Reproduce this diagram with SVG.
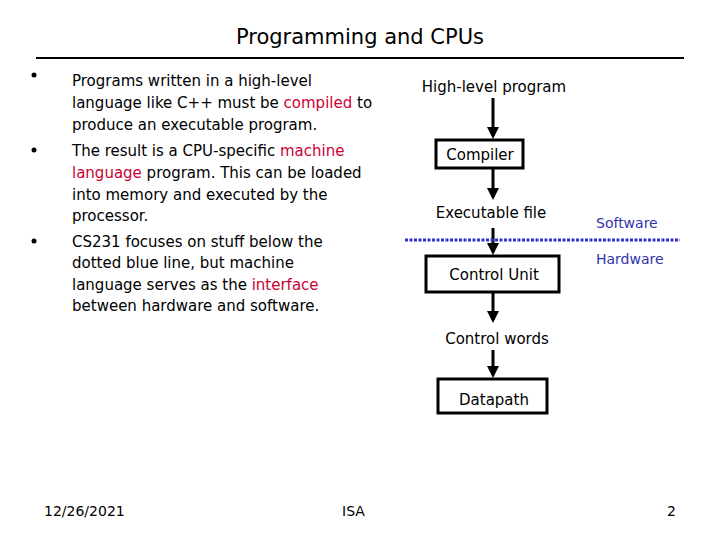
<svg xmlns="http://www.w3.org/2000/svg" width="720" height="540" viewBox="0 0 720 540">
<defs>
<style>
text{font-family:"DejaVu Sans","Liberation Sans",sans-serif;fill:#000}
.b{font-size:15px}
.r{fill:#cc0033}
.bl{fill:#3333aa;font-size:14px}
.box{fill:#fff;stroke:#000;stroke-width:3}
.ar{stroke:#000;stroke-width:3;fill:none;marker-end:url(#ah)}
.f{font-size:14px}
</style>
<marker id="ah" markerWidth="4" markerHeight="4" refX="3" refY="2" orient="auto"><path d="M0,0L4,2L0,4z" fill="#000"/></marker>
</defs>
<rect width="720" height="540" fill="#fff"/>
<text x="360" y="44" text-anchor="middle" font-size="21">Programming and CPUs</text>
<line x1="36" y1="58" x2="684" y2="58" stroke="#000" stroke-width="2"/>
<g id="bullets" class="b">
<circle cx="34" cy="75" r="2.5"/><circle cx="34" cy="150" r="2.5"/><circle cx="34" cy="241" r="2.5"/>
<text x="72" y="86">Programs written in a high-level</text>
<text x="72" y="108">language like C++ must be <tspan class="r">compiled</tspan> to</text>
<text x="72" y="130">produce an executable program.</text>
<text x="72" y="156">The result is a CPU-specific <tspan class="r">machine</tspan></text>
<text x="72" y="178"><tspan class="r">language</tspan> program. This can be loaded</text>
<text x="72" y="200">into memory and executed by the</text>
<text x="72" y="221">processor.</text>
<text x="72" y="247">CS231 focuses on stuff below the</text>
<text x="72" y="268">dotted blue line, but machine</text>
<text x="72" y="290">language serves as the <tspan class="r">interface</tspan></text>
<text x="72" y="311">between hardware and software.</text>
</g>
<g id="connectors">
<line class="ar" x1="493" y1="98" x2="493" y2="136"/>
<line class="ar" x1="493" y1="168" x2="493" y2="197"/>
<line class="ar" x1="493" y1="228" x2="493" y2="252"/>
<line class="ar" x1="493" y1="292" x2="493" y2="320"/>
<line class="ar" x1="493" y1="350" x2="493" y2="375"/>
</g>
<line x1="405" y1="240" x2="680" y2="240" stroke="#3333cc" stroke-width="3" stroke-dasharray="3,1.5"/>
<g id="hlp"><text class="b" x="494" y="92" text-anchor="middle">High-level program</text></g>
<g id="compiler"><rect class="box" x="436" y="140" width="87" height="28"/><text class="b" x="480" y="160" text-anchor="middle">Compiler</text></g>
<g id="exe"><text class="b" x="491" y="218" text-anchor="middle">Executable file</text></g>
<g id="cu"><rect class="box" x="426" y="256" width="133" height="36"/><text class="b" x="494" y="280" text-anchor="middle">Control Unit</text></g>
<g id="cw"><text class="b" x="497" y="344" text-anchor="middle">Control words</text></g>
<g id="dp"><rect class="box" x="438" y="379" width="109" height="34"/><text class="b" x="494" y="405" text-anchor="middle">Datapath</text></g>
<text class="bl" x="596" y="228">Software</text>
<text class="bl" x="596" y="264">Hardware</text>
<text class="f" x="44" y="516">12/26/2021</text>
<text class="f" x="342" y="516">ISA</text>
<text class="f" x="667" y="516">2</text>
</svg>
